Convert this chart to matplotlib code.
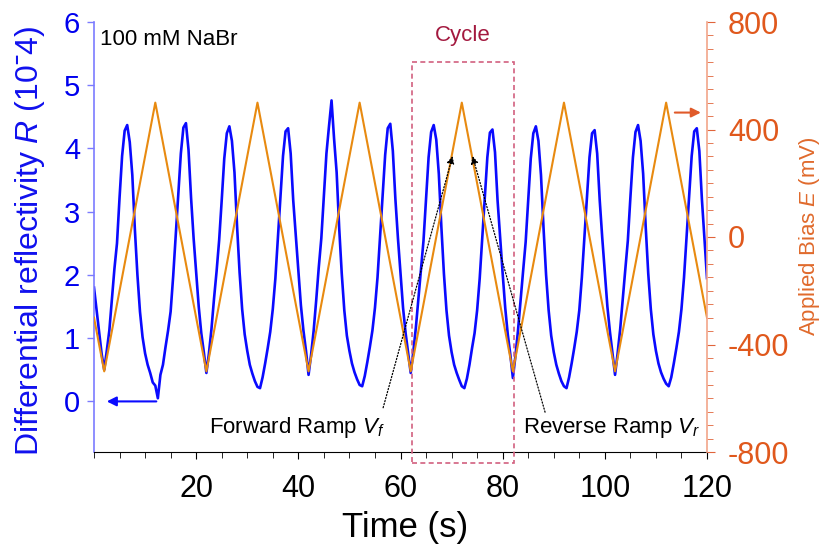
import numpy as np
import matplotlib
matplotlib.use("Agg")
import matplotlib.pyplot as plt
from matplotlib.ticker import MultipleLocator
from matplotlib.patches import Rectangle

plt.rcParams['font.family'] = ['Liberation Sans', 'DejaVu Sans']
plt.rcParams['mathtext.fontset'] = 'custom'
plt.rcParams['mathtext.rm'] = 'Liberation Sans'
plt.rcParams['mathtext.it'] = 'Liberation Sans:italic'
plt.rcParams['axes.unicode_minus'] = False

# ---- data ----
time = np.arange(0, 120.5, 0.5)   # 0.5 s sampling
refl_lead = [1.80, 1.45, 1.10, 0.75]  # t = 0 .. 1.5
# one list per 20 s voltage cycle, starting at t = 2, 22, 42, ...
refl_c0 = [0.50, 0.80, 1.12, 1.60, 2.10, 2.50, 3.22, 3.88, 4.28, 4.37,
           4.10, 3.58, 2.72, 2.00, 1.42, 1.02, 0.76, 0.58, 0.45, 0.30,
           0.25, 0.05, 0.42, 0.58, 0.86, 1.12, 1.42, 1.98, 2.62, 3.28,
           3.92, 4.33, 4.40, 3.98, 3.22, 2.58, 2.05, 1.50, 1.08, 0.78]
refl_c1 = [0.45, 0.76, 1.15, 1.63, 2.06, 2.55, 3.18, 3.84, 4.24, 4.35,
           4.12, 3.62, 2.78, 2.04, 1.46, 1.06, 0.80, 0.58, 0.44, 0.32,
           0.23, 0.21, 0.38, 0.60, 0.84, 1.10, 1.46, 1.94, 2.58, 3.24,
           3.88, 4.27, 4.32, 3.92, 3.18, 2.62, 2.06, 1.52, 1.12, 0.80]
refl_c2 = [0.42, 0.74, 1.12, 1.60, 2.12, 2.58, 3.25, 3.92, 4.35, 4.76,
           4.15, 3.62, 2.74, 2.02, 1.44, 1.04, 0.80, 0.60, 0.46, 0.35,
           0.26, 0.24, 0.40, 0.62, 0.86, 1.12, 1.48, 1.96, 2.60, 3.26,
           3.90, 4.32, 4.39, 3.96, 3.20, 2.58, 2.04, 1.48, 1.08, 0.76]
refl_c3 = [0.45, 0.78, 1.16, 1.62, 2.08, 2.54, 3.20, 3.86, 4.26, 4.37,
           4.14, 3.60, 2.76, 2.02, 1.44, 1.04, 0.78, 0.58, 0.45, 0.34,
           0.24, 0.21, 0.36, 0.58, 0.84, 1.08, 1.44, 1.94, 2.58, 3.22,
           3.86, 4.25, 4.30, 3.94, 3.18, 2.60, 2.02, 1.48, 1.06, 0.74]
refl_c4 = [0.37, 0.72, 1.12, 1.60, 2.06, 2.52, 3.18, 3.84, 4.24, 4.35,
           4.12, 3.58, 2.74, 2.00, 1.44, 1.04, 0.78, 0.58, 0.44, 0.32,
           0.24, 0.21, 0.38, 0.60, 0.84, 1.10, 1.44, 1.96, 2.60, 3.24,
           3.86, 4.24, 4.29, 3.92, 3.18, 2.58, 2.04, 1.50, 1.10, 0.76]
refl_c5 = [0.42, 0.76, 1.14, 1.62, 2.08, 2.54, 3.22, 3.86, 4.26, 4.37,
           4.12, 3.60, 2.76, 2.02, 1.46, 1.06, 0.80, 0.60, 0.46, 0.36,
           0.28, 0.24, 0.38, 0.60, 0.84, 1.10, 1.46, 1.96, 2.60, 3.24,
           3.88, 4.27, 4.32, 3.96, 3.20, 2.58, 1.95]
reflectivity = refl_lead + refl_c0 + refl_c1 + refl_c2 + refl_c3 + refl_c4 + refl_c5

# triangle bias, vertices (s, mV)
bias_t = [0, 2, 12, 22, 32, 42, 52, 62, 72, 82, 92, 102, 112, 120]
bias_mv = [-300, -500, 500, -500, 500, -500, 500, -500, 500, -500, 500, -500, 500, -300]

cycle_start, cycle_end = 62.2, 82.2

blue = '#0a0aff'
orange = '#e88a10'
rcol = '#e0581c'

fig = plt.figure(figsize=(8.23, 5.5), dpi=100)
ax = fig.add_axes([94/823, 1-452/550, 613/823, 430/550])
ax2 = ax.twinx()

ax.plot(time, reflectivity, color=blue, lw=1.9)
ax2.plot(bias_t, bias_mv, color=orange, lw=1.5)

ax.set_xlim(0, 120)
ax.set_ylim(-0.8, 6)
ax2.set_ylim(-800, 800)

ax.set_xticks(range(20, 121, 20))
ax.xaxis.set_minor_locator(MultipleLocator(5))
ax.set_yticks(range(0, 7))
ax2.set_yticks([-800, -400, 0, 400, 800])
ax2.yaxis.set_minor_locator(MultipleLocator(50))

for s in ['top', 'right']:
    ax.spines[s].set_visible(False)
for s in ['top', 'left', 'bottom']:
    ax2.spines[s].set_visible(False)
ax.spines['left'].set_color('#7b7bff')
ax.spines['left'].set_linewidth(1.2)
ax2.spines['right'].set_color('#f2a58a')
ax2.spines['right'].set_linewidth(1.2)

ax.tick_params(axis='y', direction='out', length=5, width=1, color='#7b7bff',
               labelcolor='#0000ee', labelsize=21, pad=5)
ax.tick_params(axis='x', which='major', direction='out', length=5, labelsize=22, pad=11)
ax.tick_params(axis='x', which='minor', direction='out', length=4)
ax2.tick_params(axis='y', which='major', direction='out', length=6, color='#e0643a',
                labelcolor=rcol, labelsize=22, pad=9)
ax2.tick_params(axis='y', which='minor', direction='out', length=4, color='#e0643a')

fig.text(30/823, 1-241/550, r'Differential reflectivity $R$ (10ˉ4)', rotation=90,
         ha='center', va='center', color='#1010ee', fontsize=23)
fig.text(809/823, 1-236/550, r'Applied Bias $E$ (mV)', rotation=90,
         ha='center', va='center', color='#e06a2c', fontsize=16)
fig.text(405/823, 1-528/550, 'Time (s)', ha='center', va='center', fontsize=25)

ax.text(1.2, 5.72, '100 mM NaBr', fontsize=16, va='center', ha='left')
ax.text(72.2, 5.79, 'Cycle', fontsize=16, va='center', ha='center', color='#a3193f')

box = Rectangle((cycle_start, -0.98), cycle_end-cycle_start, 5.37+0.98, fill=False,
                edgecolor='#d2607f', lw=1.2, linestyle=(0, (3, 2)),
                transform=ax.transData, clip_on=False)
ax2.add_patch(box)

ax2.annotate('', xy=(70.2, 3.88), xytext=(56.6, -0.1), xycoords=ax.transData,
             textcoords=ax.transData,
             arrowprops=dict(arrowstyle='-|>', linestyle=(0, (1, 1.5)), color='k',
                             lw=0.9, mutation_scale=11, shrinkA=0, shrinkB=0))
ax2.annotate('', xy=(74.1, 3.88), xytext=(88.3, -0.17), xycoords=ax.transData,
             textcoords=ax.transData,
             arrowprops=dict(arrowstyle='-|>', linestyle=(0, (1, 1.5)), color='k',
                             lw=0.9, mutation_scale=11, shrinkA=0, shrinkB=0))
ax.text(22.6, -0.42, r'Forward Ramp $V_f$', fontsize=16, va='center', ha='left')
ax.text(84.0, -0.42, r'Reverse Ramp $V_r$', fontsize=16, va='center', ha='left')

ax.annotate('', xy=(2.5, 0), xytext=(12.2, 0),
            arrowprops=dict(arrowstyle='-|>', color=blue, lw=1.5, mutation_scale=14,
                            shrinkA=0, shrinkB=0))
ax2.annotate('', xy=(118.8, 463), xytext=(113.7, 463),
             arrowprops=dict(arrowstyle='-|>', color='#e05a2a', lw=1.5, mutation_scale=14,
                             shrinkA=0, shrinkB=0))

fig.savefig('out.png', dpi=100)
